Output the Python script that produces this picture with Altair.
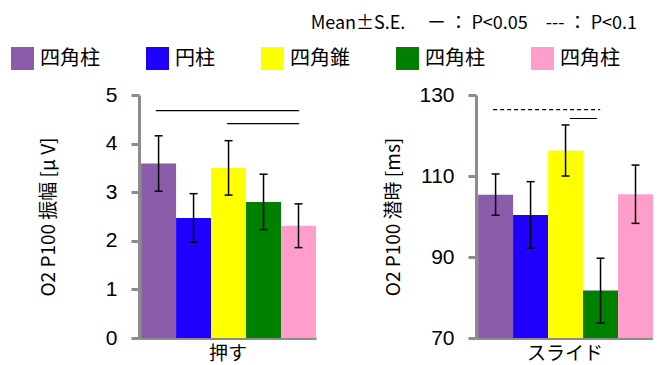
import altair as alt
import pandas as pd

# ---- data ----
keys = ["A", "B", "C", "D", "E"]
shapes = ["四角柱", "円柱", "四角錐", "四角柱", "四角柱"]
colors = ["#8B5CAA", "#1F00FF", "#FFFF00", "#008000", "#FF9ECC"]
pos = [0, 1, 2, 3, 4]

push_mean = [3.59, 2.47, 3.50, 2.80, 2.31]
push_se = [0.57, 0.50, 0.56, 0.57, 0.45]
slide_mean = [105.4, 100.4, 116.3, 81.7, 105.5]
slide_se = [5.1, 8.2, 6.3, 8.0, 7.2]

push_sig_x1 = [0.42, 2.46]
push_sig_x2 = [4.52, 4.52]
push_sig_y = [4.68, 4.41]
push_sig_style = ["solid", "solid"]

slide_sig_x1 = [0.43, 2.62]
slide_sig_x2 = [3.49, 3.40]
slide_sig_y = [126.4, 124.2]
slide_sig_style = ["dashed", "solid"]

FONT = "Liberation Sans, Noto Sans CJK JP"
JP = "Noto Sans CJK JP"
AXIS_GRAY = "#8C8C8C"

label_expr = "datum.label == 'B' ? '円柱' : datum.label == 'C' ? '四角錐' : '四角柱'"


def panel(mean, se, sx1, sx2, sy, sst, ymin, ymax, ticks, ytitle, xtitle, tpad):
    df = pd.DataFrame({
        "key": keys,
        "x0": pos,
        "x1": [p + 1 for p in pos],
        "xc": [p + 0.5 for p in pos],
        "m": mean,
        "lo": [m - s for m, s in zip(mean, se)],
        "hi": [m + s for m, s in zip(mean, se)],
        "base": [ymin] * 5,
    })
    sig = pd.DataFrame({"x1": sx1, "x2": sx2, "y": sy, "st": sst})
    xs = alt.Scale(domain=[-0.06, 5.0], nice=False, zero=False)
    ys = alt.Scale(domain=[ymin, ymax], nice=False, zero=False)
    yaxis = alt.Axis(values=ticks, grid=False, title=ytitle, titleFont=JP,
                     titleFontSize=19, titleFontWeight="normal", titleColor="black",
                     titlePadding=tpad, labelFont=FONT, labelFontSize=21,
                     labelColor="black", labelPadding=14, domainColor=AXIS_GRAY,
                     domainWidth=3, tickColor=AXIS_GRAY, tickWidth=3, tickSize=8)
    xaxis = alt.Axis(labels=False, ticks=False, grid=False, title=xtitle,
                     titleFont=JP, titleFontSize=19, titleFontWeight="normal",
                     titleColor="black", titlePadding=6,
                     domainColor=AXIS_GRAY, domainWidth=3)
    bars = alt.Chart(df).mark_bar().encode(
        x=alt.X("x0:Q", scale=xs, axis=xaxis),
        x2="x1:Q",
        y=alt.Y("m:Q", scale=ys, axis=yaxis),
        y2="base:Q",
        color=alt.Color("key:N", scale=alt.Scale(domain=keys, range=colors),
                        legend=alt.Legend(title=None, labelExpr=label_expr)),
    )
    err = alt.Chart(df).mark_rule(color="black", strokeWidth=1.5).encode(
        x="xc:Q", y="lo:Q", y2="hi:Q")
    cap_lo = alt.Chart(df).mark_rule(color="black", strokeWidth=1.5, xOffset=-4, x2Offset=4).encode(
        x="xc:Q", x2="xc:Q", y="lo:Q")
    cap_hi = alt.Chart(df).mark_rule(color="black", strokeWidth=1.5, xOffset=-4, x2Offset=4).encode(
        x="xc:Q", x2="xc:Q", y="hi:Q")
    sigl = alt.Chart(sig).mark_rule(color="black", strokeWidth=1.2).encode(
        x="x1:Q", x2="x2:Q", y="y:Q",
        strokeDash=alt.StrokeDash("st:N", scale=alt.Scale(domain=["solid", "dashed"],
                                                           range=[[1, 0], [4, 3]]),
                                  legend=None),
    )
    return alt.layer(bars, err, cap_lo, cap_hi, sigl).properties(width=177, height=243)


left = panel(push_mean, push_se, push_sig_x1, push_sig_x2, push_sig_y, push_sig_style,
             0, 5, [0, 1, 2, 3, 4, 5], "O2 P100 振幅 [μ V]", "押す", 47)
right = panel(slide_mean, slide_se, slide_sig_x1, slide_sig_x2, slide_sig_y, slide_sig_style,
              70, 130, [70, 90, 110, 130], "O2 P100 潜時 [ms]", "スライド", 15)

chart = alt.hconcat(left, right, spacing=68).properties(
    title=alt.TitleParams("Mean±S.E.　  ー ： P<0.05　--- ： P<0.1", anchor="end",
                          font=JP, fontSize=18, fontWeight="normal", color="black",
                          dx=-16, dy=-10),
    padding={"left": 3, "top": 7, "right": 0, "bottom": 0},
).resolve_scale(color="shared", strokeDash="independent").configure_view(stroke=None).configure_legend(
    orient="none", legendX=-128, legendY=-48, direction="horizontal",
    symbolType="square", symbolSize=529, symbolStrokeWidth=0, symbolOpacity=1,
    labelFont=JP, labelFontSize=20, labelColor="black", labelOffset=6,
    columnPadding=46, columns=5,
)

chart.save("out.html", embed_options={"renderer": "svg", "actions": False})
